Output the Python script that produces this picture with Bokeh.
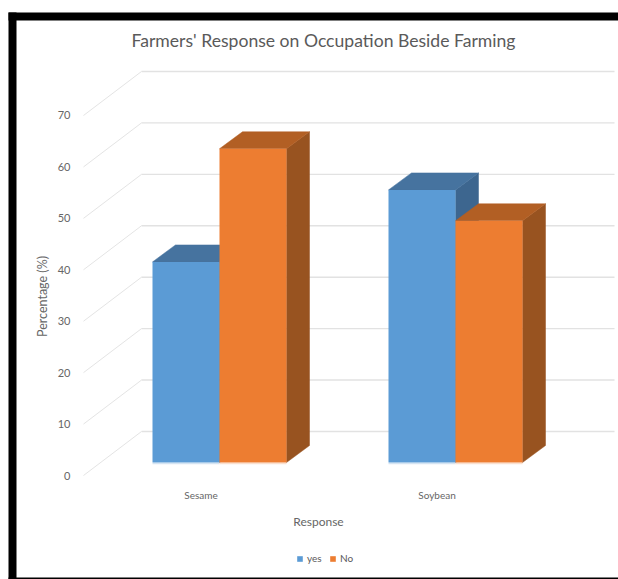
from bokeh.embed import file_html
from bokeh.resources import INLINE
from bokeh.plotting import figure
from bokeh.models import (BoxAnnotation, ColumnDataSource, FixedTicker, Label,
                          Legend, LegendItem, Range1d)

# Chart values
categories = ["Sesame", "Soybean"]
yes_values = [39, 53]
no_values = [61, 47]
y_ticks = [0, 10, 20, 30, 40, 50, 60, 70]

title_text = "Farmers' Response on Occupation Beside Farming"
x_title = "Response"
y_title = "Percentage (%)"
FONT = "Lato"

# Canvas geometry, in pixels
W, H = 618, 579
AXIS_X, ZERO_Y, WALL_RIGHT = 83, 475, 614
PX_PER_PCT = 5.143
PX_PER_CAT = 236
GROUP_0_PX = 219

# Pseudo-3D projection, in pixels
WALL_DX, WALL_DY = 58, 44    # front axis plane to back wall
BAR_LIFT = 13                # bars stand a little behind the axis plane
BAR_DX, BAR_DY = 23, 17      # depth of each bar
BAR_W = 67 / PX_PER_CAT

px_x = 1 / PX_PER_CAT
px_y = 1 / PX_PER_PCT


def sx(px):
    """Horizontal canvas pixel to category units."""
    return (px - GROUP_0_PX) * px_x


def sy(px):
    """Vertical canvas pixel to percent units."""
    return (ZERO_Y - px) * px_y


# The frame fills the canvas; both axes are pinned inside it
p = figure(width=W, height=H, output_backend="svg", toolbar_location=None,
           x_range=Range1d(sx(0), sx(W)), y_range=Range1d(sy(H), sy(0)),
           min_border=0)
p.outline_line_color = None
p.grid.visible = False
p.background_fill_color = "white"
p.border_fill_color = "white"

# Axes
p.yaxis.fixed_location = sx(AXIS_X)
p.yaxis.ticker = FixedTicker(ticks=y_ticks)
p.yaxis.axis_line_color = None
p.yaxis.major_tick_line_color = None
p.yaxis.minor_tick_line_color = None
p.yaxis.major_label_standoff = 7
p.yaxis.major_label_text_font = FONT
p.yaxis.major_label_text_font_size = "11px"
p.yaxis.major_label_text_color = "#666666"

tick_shift = -18.5 * px_x
x_ticks = [i + tick_shift for i in range(len(categories))]
p.xaxis.fixed_location = 0
p.xaxis.ticker = FixedTicker(ticks=x_ticks)
p.xaxis.major_label_overrides = {t: c for t, c in zip(x_ticks, categories)}
p.xaxis.axis_line_color = None
p.xaxis.major_tick_line_color = None
p.xaxis.minor_tick_line_color = None
p.xaxis.major_label_standoff = 7
p.xaxis.major_label_text_font = FONT
p.xaxis.major_label_text_font_size = "10px"
p.xaxis.major_label_text_color = "#666666"

# Back wall gridlines and the diagonal side-wall rules
wall_lift = WALL_DY * px_y
wall_x0 = sx(AXIS_X + WALL_DX)
p.segment(x0=[wall_x0] * len(y_ticks), x1=[sx(WALL_RIGHT)] * len(y_ticks),
          y0=[t + wall_lift for t in y_ticks], y1=[t + wall_lift for t in y_ticks],
          line_color="#e2e2e2", line_width=1.4)
p.segment(x0=[sx(AXIS_X)] * len(y_ticks), x1=[wall_x0] * len(y_ticks),
          y0=y_ticks, y1=[t + wall_lift for t in y_ticks],
          line_color="#e4e4e4", line_width=1)


def draw_series(values, offset, front, top, side, rim):
    """Draw one series as extruded bars: side face, top face, then front."""
    base = BAR_LIFT * px_y
    dx, dy = BAR_DX * px_x, BAR_DY * px_y
    lefts = [i + offset for i in range(len(values))]
    rights = [l + BAR_W for l in lefts]
    tops = [v + base for v in values]

    side_xs = [[r, r + dx, r + dx, r] for r in rights]
    side_ys = [[base, base + dy, t + dy, t] for t in tops]
    p.patches(side_xs, side_ys, fill_color=side, line_color=side, line_width=0.5)

    top_xs = [[l, l + dx, r + dx, r] for l, r in zip(lefts, rights)]
    top_ys = [[t, t + dy, t + dy, t] for t in tops]
    p.patches(top_xs, top_ys, fill_color=top, line_color=top, line_width=0.5)

    # Pale rim along the foot of each bar
    p.segment(x0=lefts, x1=rights, y0=[base - 0.9 * px_y] * len(values),
              y1=[base - 0.9 * px_y] * len(values), line_color=rim, line_width=1.5)

    src = ColumnDataSource(dict(left=lefts, right=rights, top=tops,
                                bottom=[base] * len(values)))
    return p.quad(left="left", right="right", top="top", bottom="bottom", source=src,
                  fill_color=front, line_color=None)


yes_bars = draw_series(yes_values, -BAR_W, "#5b9bd5", "#46739f", "#3d668f", "#d5e4f2")
no_bars = draw_series(no_values, 0, "#ed7d31", "#b25f24", "#985320", "#fae0cf")

# Chart title and axis titles
p.add_layout(Label(x=sx(323), y=sy(40), text=title_text,
                   text_font=FONT, text_font_size="17.6px", text_color="#5a5a5a",
                   text_align="center", text_baseline="middle"))
p.add_layout(Label(x=sx(318), y=sy(521), text=x_title,
                   text_font=FONT, text_font_size="12px", text_color="#666666",
                   text_align="center", text_baseline="middle"))
p.add_layout(Label(x=sx(42), y=sy(296), text=y_title,
                   angle=90, angle_units="deg",
                   text_font=FONT, text_font_size="12.5px", text_color="#666666",
                   text_align="center", text_baseline="middle"))

# Legend
legend = Legend(items=[LegendItem(label="yes", renderers=[yes_bars]),
                       LegendItem(label="No", renderers=[no_bars])],
                orientation="horizontal", location=(296, 15),
                glyph_width=7, glyph_height=7, label_standoff=4, spacing=2,
                padding=0, margin=0, border_line_color=None,
                background_fill_alpha=0,
                label_text_font=FONT, label_text_font_size="10px",
                label_text_color="#595959")
p.add_layout(legend, "center")

# Heavy black frame on the left and top, hairline along the bottom
for x0, x1, y0, y1 in [(8, 16, 12, 579), (8, 618, 12, 20), (8, 618, 577, 578.5)]:
    p.add_layout(BoxAnnotation(left=sx(x0), right=sx(x1), top=sy(y0), bottom=sy(y1),
                               fill_color="black", fill_alpha=1, line_color=None))

open("out.html", "w").write(file_html(p, INLINE))
